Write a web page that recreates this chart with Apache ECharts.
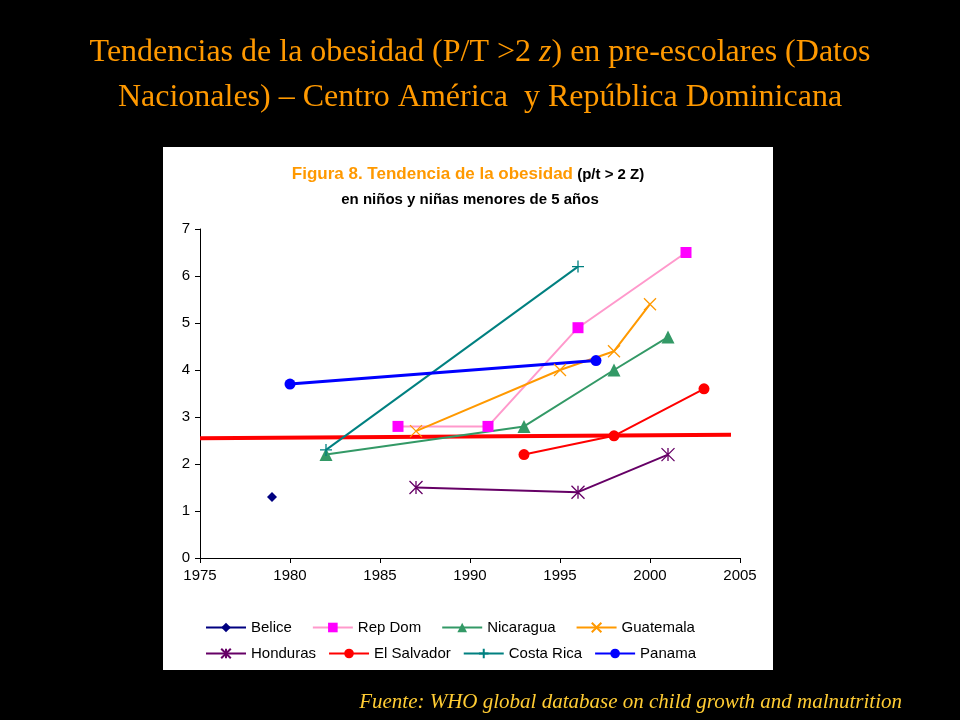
<!DOCTYPE html>
<html><head><meta charset="utf-8">
<script src="https://cdn.jsdelivr.net/npm/echarts@6/dist/echarts.min.js"></script>
<style>html,body{margin:0;padding:0;background:#000}#c{width:960px;height:720px}</style>
</head><body><div id="c"></div>
<script>
const belice = [[1979,1.3]];
const repDom = [[1986,2.8],[1991,2.8],[1996,4.9],[2002,6.5]];
const nicaragua = [[1982,2.2],[1993,2.8],[1998,4.0],[2001,4.7]];
const guatemala = [[1987,2.7],[1995,4.0],[1998,4.4],[2000,5.4]];
const honduras = [[1987,1.5],[1996,1.4],[2001,2.2]];
const elSalvador = [[1993,2.2],[1998,2.6],[2003,3.6]];
const costaRica = [[1982,2.3],[1996,6.2]];
const panama = [[1980,3.7],[1997,4.2]];
const refLine = [[1975,2.55],[2004.5,2.62]];
const xTicks = [1975,1980,1985,1990,1995,2000,2005];

const PLUS='path://M5,0L5,10M0,5L10,5';
const CROSS='path://M0,0L10,10M10,0L0,10';
const STAR='path://M0,0L10,10M10,0L0,10M5,0L5,10';
function s(name,data,color,symbol,size,lw,stroke){
  return {name,type:'line',data,symbol,symbolSize:size,showSymbol:true,
    lineStyle:{color,width:lw},
    itemStyle:stroke?{color:'rgba(0,0,0,0)',borderColor:color,borderWidth:1.3}:{color},
    emphasis:{disabled:true}};
}
const chart=echarts.init(document.getElementById('c'));
const legendText={fontFamily:'Liberation Sans',fontSize:15,color:'#000'};
const T='32px "Liberation Serif"';
chart.setOption({
  backgroundColor:'#000',animation:false,
  graphic:[{type:'rect',shape:{x:163,y:147,width:610,height:523},style:{fill:'#fff'},z:-10},
    {type:'text',x:480,y:30,style:{rich:{n:{fill:'#FF9900',font:T},i:{fill:'#FF9900',font:'italic '+T}},
      text:'{n|Tendencias de la obesidad (P/T >2 }{i|z}{n|) en pre-escolares (Datos}\n{n|Nacionales) – Centro América  y República Dominicana}',
      textAlign:'center',lineHeight:45}},
    {type:'text',right:58,top:692,style:{text:'Fuente: WHO global database on child growth and malnutrition',
      fill:'#FFCC33',font:'italic 21px "Liberation Serif"'}},
    {type:'text',x:468,y:166,style:{rich:{a:{fill:'#FF9900',font:'bold 17px "Liberation Sans"'},b:{fill:'#000',font:'bold 15px "Liberation Sans"'}},
      text:'{a|Figura 8. Tendencia de la obesidad}{b| (p/t > 2 Z)}',textAlign:'center'}},
    {type:'text',x:470,y:192,style:{text:'en niños y niñas menores de 5 años',fill:'#000',font:'bold 15px "Liberation Sans"',textAlign:'center'}}
  ],
  grid:{left:200,right:220,top:229,bottom:162},
  xAxis:{type:'value',min:1975,max:2005,interval:5,
    axisLine:{lineStyle:{color:'#000'}},axisTick:{lineStyle:{color:'#000'},length:5},
    splitLine:{show:false},axisLabel:{color:'#000',fontFamily:'Liberation Sans',fontSize:15,margin:10,formatter:v=>String(v)}},
  yAxis:{type:'value',min:0,max:7,interval:1,
    axisLine:{show:true,lineStyle:{color:'#000'}},axisTick:{show:true,lineStyle:{color:'#000'},length:5},
    splitLine:{show:false},axisLabel:{color:'#000',fontFamily:'Liberation Sans',fontSize:15,margin:10}},
  legend:[
    {data:['Belice','Rep Dom','Nicaragua','Guatemala'],left:200,top:615,itemWidth:40,itemHeight:12,itemGap:20,textStyle:legendText},
    {data:['Honduras','El Salvador','Costa Rica','Panama'],left:200,top:641,itemWidth:40,itemHeight:12,itemGap:12,textStyle:legendText}
  ],
  series:[
    s('Belice',belice,'#000080','diamond',10,2),
    Object.assign(s('Rep Dom',repDom,'#FF99CC','rect',11,2),{itemStyle:{color:'#FF00FF'}}),
    s('Nicaragua',nicaragua,'#339966','triangle',13,2),
    s('Guatemala',guatemala,'#FF9900',CROSS,12,2,true),
    s('Honduras',honduras,'#660066',STAR,13,2,true),
    s('El Salvador',elSalvador,'#FF0000','circle',11,2),
    s('Costa Rica',costaRica,'#008080',PLUS,12,2,true),
    s('Panama',panama,'#0000FF','circle',11,3),
    {name:'ref',type:'line',data:refLine,symbol:'none',lineStyle:{color:'#FF0000',width:4},z:1,emphasis:{disabled:true}}
  ]
});
</script></body></html>
